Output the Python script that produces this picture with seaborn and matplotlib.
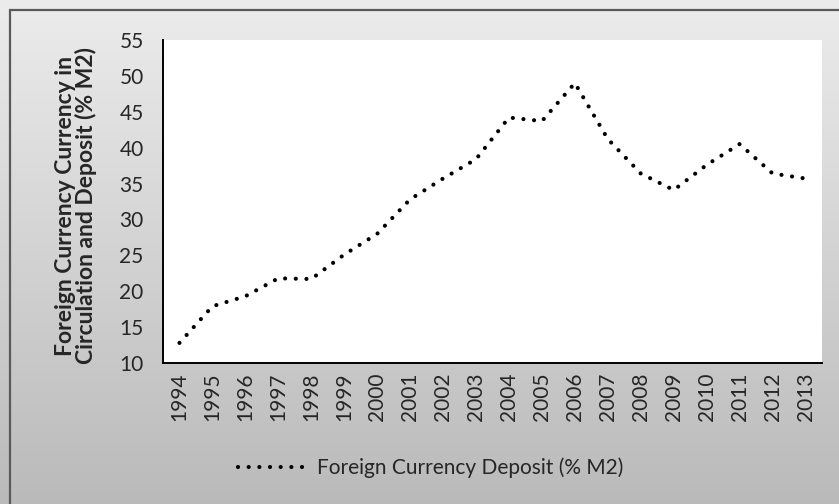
import numpy as np
import pandas as pd
import seaborn as sns
import matplotlib.pyplot as plt
from matplotlib.patches import Rectangle
from matplotlib.colors import LinearSegmentedColormap

years = [str(y) for y in range(1994, 2014)]
deposit = [12.8, 17.9, 19.3, 21.8, 21.7, 25.1, 28.0, 32.8, 35.7, 38.4,
           44.2, 43.7, 49.0, 41.2, 36.4, 34.1, 37.6, 40.5, 36.4, 35.7]
series_name = "Foreign Currency Deposit (% M2)"
y_label = "Foreign Currency Currency in\nCirculation and Deposit (% M2)"

df = pd.DataFrame({"Year": years, "Deposit": deposit})

sns.set_style("white")
plt.rcParams["font.family"] = ["Lato", "DejaVu Sans"]

fig = plt.figure(figsize=(8.39, 5.04), dpi=100)

# grey gradient background + frame
bg = fig.add_axes([0, 0, 1, 1], zorder=-10)
grey = LinearSegmentedColormap.from_list("grey", ["#ececec", "#bababa"])
grad = np.linspace(0, 1, 256).reshape(-1, 1)
bg.imshow(grad, aspect="auto", extent=[0, 1, 0, 1], cmap=grey, origin="upper")
bg.set_xlim(0, 1)
bg.set_ylim(0, 1)
bg.axis("off")
fig.patches.append(Rectangle((10 / 839, -0.1), 1.2, 1 - 10 / 504 + 0.1,
                             transform=fig.transFigure, fill=False,
                             ec="#5a5a5a", lw=1.6, zorder=5))

ax = fig.add_axes([163 / 839, 1 - 363 / 504, (822 - 163) / 839, (363 - 40) / 504])
ax.set_zorder(1)
ax.set_facecolor("white")

sns.lineplot(data=df, x="Year", y="Deposit", ax=ax, color="black",
             linewidth=3.0, label=series_name, sort=False)
line = ax.lines[0]
line.set_linestyle((0, (0.01, 2.55)))
line.set_dash_capstyle("round")

ax.set_xlim(-0.5, len(years) - 0.5)
ax.set_ylim(10, 55)
ax.set_yticks(range(10, 56, 5))
ax.tick_params(axis="both", labelsize=15, length=0)
ax.tick_params(axis="x", rotation=90, pad=7)
ax.tick_params(axis="y", pad=14)
ax.set_xlabel("")
ax.set_ylabel(y_label, fontsize=16.5, fontweight="bold", linespacing=0.95)
ax.yaxis.set_label_coords(-0.1, 0.487)

for side in ["top", "right"]:
    ax.spines[side].set_visible(False)
for side in ["left", "bottom"]:
    ax.spines[side].set_color("black")
    ax.spines[side].set_linewidth(1.4)

leg = ax.legend(loc="center", bbox_to_anchor=(431 / 839, 1 - 468 / 504),
                bbox_transform=fig.transFigure, frameon=False, fontsize=15,
                handlelength=3.2, handletextpad=0.6)
for h in leg.get_lines():
    h.set_linestyle((0, (0.01, 2.55)))
    h.set_dash_capstyle("round")

fig.savefig("out.png", dpi=100)
